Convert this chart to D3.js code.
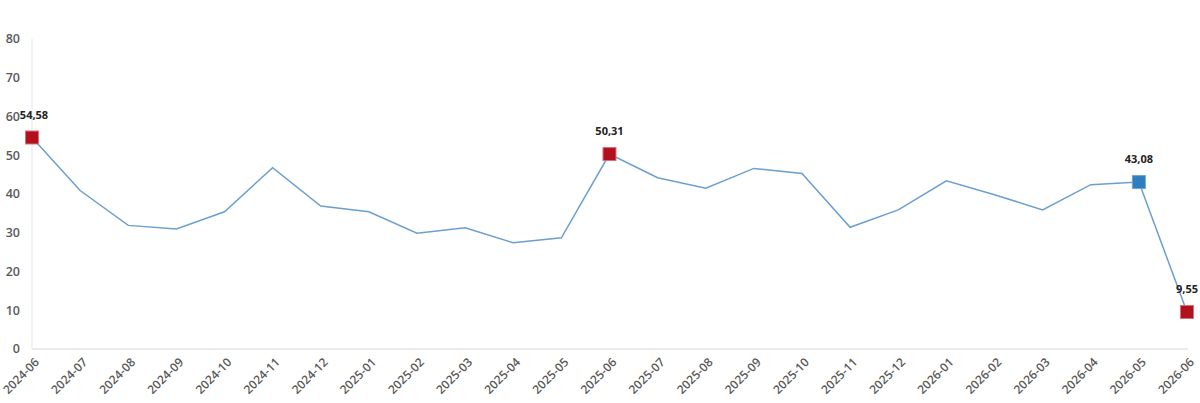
<!DOCTYPE html>
<html>
<head>
<meta charset="utf-8">
<script src="https://cdn.jsdelivr.net/npm/d3@7"></script>
<style>
  body { margin: 0; background: #fff; }
  text { font-family: "Open Sans", sans-serif; }
</style>
</head>
<body>
<script>
var months = ["2024-06","2024-07","2024-08","2024-09","2024-10","2024-11","2024-12",
  "2025-01","2025-02","2025-03","2025-04","2025-05","2025-06","2025-07","2025-08",
  "2025-09","2025-10","2025-11","2025-12","2026-01","2026-02","2026-03","2026-04",
  "2026-05","2026-06"];
var values = [54.58, 40.9, 31.9, 31.0, 35.4, 46.8, 36.9, 35.4, 29.9, 31.3, 27.4, 28.7,
  50.31, 44.2, 41.5, 46.6, 45.3, 31.4, 35.9, 43.4, 39.8, 35.9, 42.4, 43.08, 9.55];
var yTicks = [0, 10, 20, 30, 40, 50, 60, 70, 80];
// highlighted points: index and type
var highlights = [
  { i: 0, kind: "max" },
  { i: 12, kind: "max" },
  { i: 23, kind: "last" },
  { i: 24, kind: "max" }
];

var width = 1200, height = 403;
var margin = { top: 39, right: 13, bottom: 54, left: 32 };

var svg = d3.select("body").append("svg")
    .attr("width", width)
    .attr("height", height);

var x = d3.scalePoint()
    .domain(months)
    .range([margin.left, width - margin.right]);

var y = d3.scaleLinear()
    .domain([0, 80])
    .range([height - margin.bottom, margin.top]);

// y axis line
svg.append("line")
    .attr("x1", margin.left).attr("x2", margin.left)
    .attr("y1", y(80)).attr("y2", y(0))
    .attr("stroke", "#dfe5ef")
    .attr("stroke-width", 1);

// baseline
svg.append("line")
    .attr("x1", margin.left).attr("x2", width - margin.right + 1)
    .attr("y1", y(0)).attr("y2", y(0))
    .attr("stroke", "#e4e4e4")
    .attr("stroke-width", 1.5);

svg.selectAll(".ytick")
    .data(yTicks)
    .enter()
    .append("text")
    .attr("class", "ytick")
    .attr("x", 20)
    .attr("y", function(d) { return y(d); })
    .attr("dy", "0.35em")
    .attr("text-anchor", "end")
    .attr("font-size", 12.5)
    .attr("font-weight", 600)
    .attr("fill", "#595959")
    .text(function(d) { return d; });

svg.selectAll(".xtick")
    .data(months)
    .enter()
    .append("text")
    .attr("class", "xtick")
    .attr("transform", function(d) { return "translate(" + (x(d) + 5) + "," + (y(0) + 11) + ") rotate(-45)"; })
    .attr("text-anchor", "end")
    .attr("dy", "0.35em")
    .attr("font-size", 12)
    .attr("font-weight", 600)
    .attr("fill", "#595959")
    .text(function(d) { return d; });

var line = d3.line()
    .x(function(d, i) { return x(months[i]); })
    .y(function(d) { return y(d); });

svg.append("path")
    .datum(values)
    .attr("d", line)
    .attr("fill", "none")
    .attr("stroke", "#6a9fcf")
    .attr("stroke-width", 1.5);

var size = 13;
svg.selectAll(".marker")
    .data(highlights)
    .enter()
    .append("rect")
    .attr("class", "marker")
    .attr("x", function(d) { return x(months[d.i]) - size / 2; })
    .attr("y", function(d) { return y(values[d.i]) - size / 2; })
    .attr("width", size)
    .attr("height", size)
    .attr("fill", function(d) { return d.kind == "last" ? "#2e7dbf" : "#b0111d"; })
    .attr("stroke", function(d) { return d.kind == "last" ? "#6ea6d8" : "#d9707a"; })
    .attr("stroke-width", 1);

svg.selectAll(".vlabel")
    .data(highlights)
    .enter()
    .append("text")
    .attr("class", "vlabel")
    .attr("x", function(d) { return x(months[d.i]) + (d.i == 0 ? 2 : 0); })
    .attr("y", function(d) { return y(values[d.i]) - 19; })
    .attr("text-anchor", "middle")
    .attr("font-size", 11)
    .attr("font-weight", "bold")
    .attr("fill", "#222")
    .text(function(d) { return values[d.i].toFixed(2).replace(".", ","); });
</script>
</body>
</html>
